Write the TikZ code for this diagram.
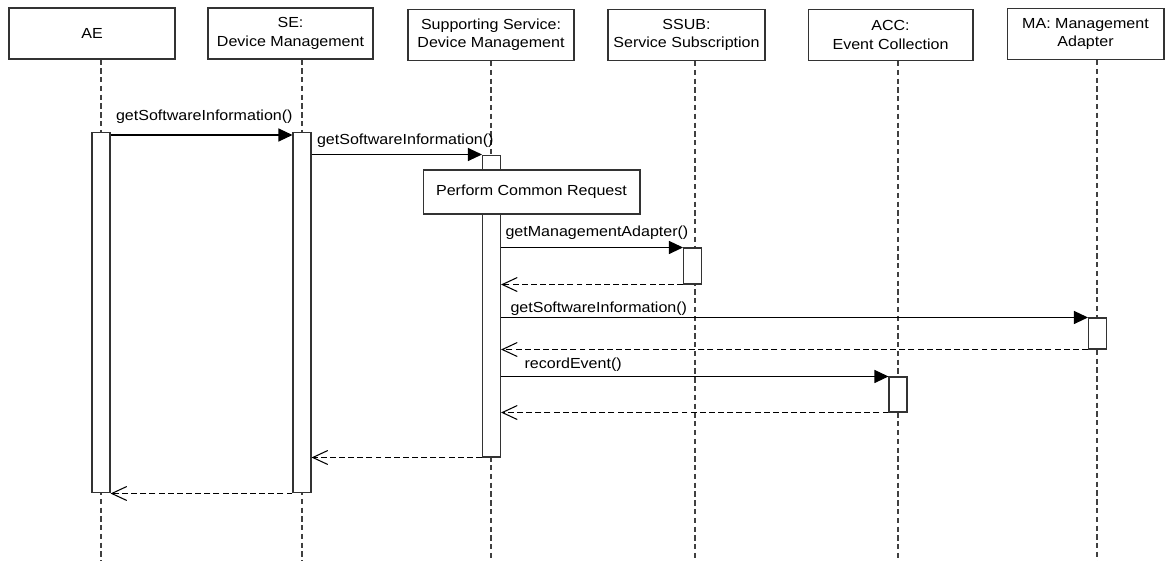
\documentclass[tikz,border=0pt]{standalone}
\usepackage{fontspec}
\setmainfont{Liberation Sans}[FakeStretch=1.1]
\usetikzlibrary{arrows.meta}

\begin{document}
\begin{tikzpicture}[x=0.02cm,y=-0.02cm,font=\fontsize{8.3}{10.5}\selectfont,
  head/.style={draw=black!80,line width=0.6pt,minimum height=1.02cm,align=center,inner sep=0pt},
  act/.style={draw=black!80,fill=white,line width=0.6pt,minimum width=0.36cm,inner sep=0pt},
  life/.style={draw=black!75,line width=0.6pt,dash pattern=on 3pt off 2pt},
  call/.style={draw=black,line width=0.6pt,-{Triangle[length=0.28cm,width=0.26cm]}},
  reply/.style={draw=black,line width=0.6pt,dash pattern=on 3.4pt off 1.8pt,-{Straight Barb[length=0.3cm,width=0.28cm]}},
  msg/.style={pos=0,anchor=south west,inner sep=0pt}]
  \useasboundingbox (0,0) rectangle (1166,561);

  \node[head,minimum width=3.32cm] (hAE) at (92,33.5) {AE};
  \node[head,minimum width=3.3cm] (hSE) at (290.5,33.5) {SE:\\Device Management};
  \node[head,minimum width=3.32cm] (hSS) at (491,35) {Supporting Service:\\Device Management};
  \node[head,minimum width=3.14cm] (hSSUB) at (686.5,35) {SSUB:\\Service Subscription};
  \node[head,minimum width=3.3cm] (hACC) at (890.5,35) {ACC:\\Event Collection};
  \node[head,minimum width=3.14cm] (hMA) at (1085.5,34) {MA: Management\\Adapter};

  \foreach \n/\x in {AE/101,SE/302,SS/491,SSUB/695,ACC/898,MA/1097}
    \draw[life] (h\n.south -| \x,0) -- (\x,561);

  \node[act,minimum height=7.22cm] (aAE) at (101,312.5) {};
  \node[act,minimum height=7.22cm] (aSE) at (302,312.5) {};
  \node[act,minimum height=6.04cm] (aSS) at (491.5,306) {};
  \node[act,minimum height=0.72cm] (aSSUB) at (692.5,266) {};
  \node[act,minimum height=0.62cm] (aMA) at (1097.5,333.5) {};
  \node[act,minimum height=0.7cm] (aACC) at (898,394.5) {};

  \node[head,fill=white,minimum width=4.34cm,minimum height=0.88cm] (pcr) at (531.5,192) {Perform Common Request};

  \draw[call] (aAE.east |- 0,135) -- (aSE.west |- 0,135)
    node[msg,xshift=0.1cm,yshift=0.22cm] {getSoftwareInformation()};
  \draw[call] (aSE.east |- aSS.north) -- (aSS.north west)
    node[msg,xshift=0.1cm,yshift=0.13cm] {getSoftwareInformation()};
  \draw[call] (aSS.east |- aSSUB.north) -- (aSSUB.north west)
    node[msg,xshift=0.08cm,yshift=0.14cm] {getManagementAdapter()};
  \draw[reply] (aSSUB.south west) -- (aSS.east |- aSSUB.south);
  \draw[call] (aSS.east |- aMA.north) -- (aMA.north west)
    node[msg,xshift=0.18cm,yshift=0.03cm] {getSoftwareInformation()};
  \draw[reply] (aMA.south west) -- (aSS.east |- aMA.south);
  \draw[call] (aSS.east |- aACC.north) -- (aACC.north west)
    node[msg,xshift=0.46cm,yshift=0.08cm] {recordEvent()};
  \draw[reply] (aACC.south west) -- (aSS.east |- aACC.south);
  \draw[reply] (aSS.south west) -- (aSE.east |- aSS.south);
  \draw[reply] (aSE.south west) -- (aAE.east |- aSE.south);
\end{tikzpicture}
\end{document}
